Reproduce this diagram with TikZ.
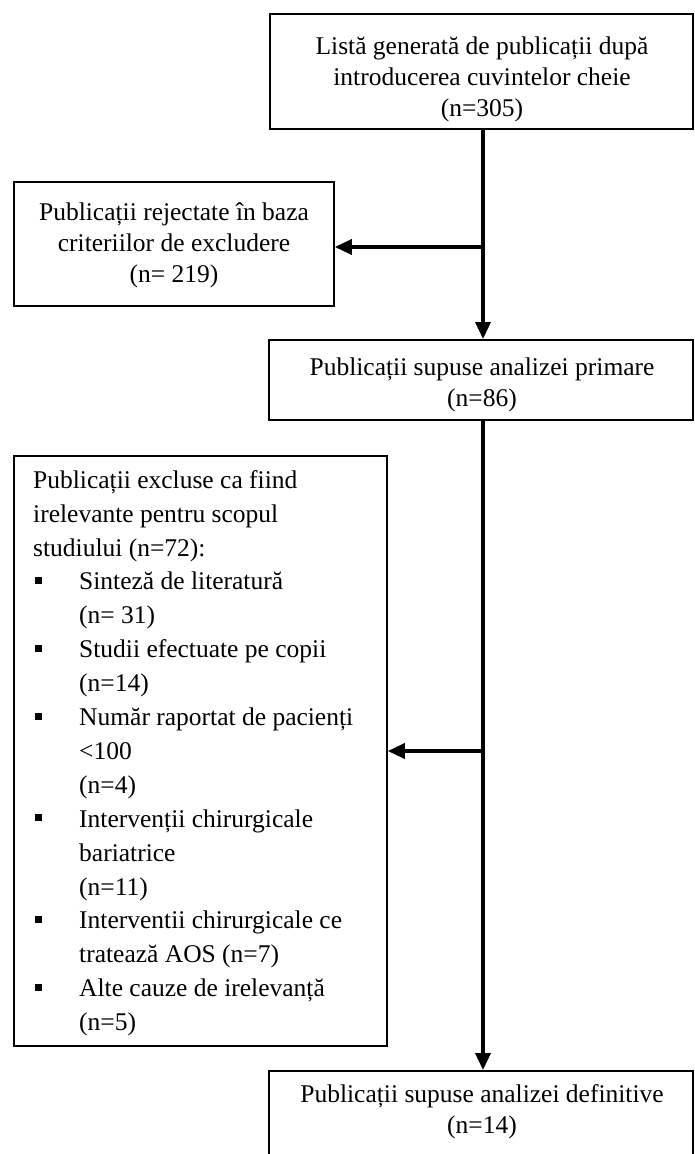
\documentclass[tikz,border=0pt]{standalone}
\usepackage{fontspec}
\setmainfont{Liberation Serif}
\usetikzlibrary{arrows.meta}
\newcommand{\bulitem}{\makebox[46pt][l]{\hspace{2pt}\rule[6pt]{7pt}{7pt}}}
\newcommand{\contind}{\hspace*{46pt}}
\begin{document}
\begin{tikzpicture}[x=1pt,y=-1pt,
  boxstyle/.style={draw, line width=1.8pt, inner sep=0pt, anchor=north west},
  txt/.style={font=\fontsize{25.5}{31}\selectfont, align=center, inner sep=0pt, anchor=north},
  ltxt/.style={font=\fontsize{25.5}{33.9}\selectfont, align=left, inner sep=0pt, anchor=north west},
  conn/.style={line width=3.5pt},
  arr/.style={conn, -{Triangle[length=17pt,width=15pt]}}]
\useasboundingbox (0,0) rectangle (694,1154);
% boxes
\node[boxstyle, minimum width=423pt, minimum height=115pt] (top) at (269,13) {};
\node[boxstyle, minimum width=320pt, minimum height=124pt] (rej) at (13,181) {};
\node[boxstyle, minimum width=424pt, minimum height=80pt] (mid) at (268,339) {};
\node[boxstyle, minimum width=373pt, minimum height=590pt] (excl) at (13,455) {};
\node[boxstyle, minimum width=424pt, minimum height=120pt] (final) at (268,1070) {};
% texts
\node[txt] (toptxt) at (482,32.3) {\strut Listă generată de publicații după\\introducerea cuvintelor cheie\\(n=305)};
\node[txt] (rejtxt) at (174,198.8) {\strut Publicații rejectate în baza\\criteriilor de excludere\\(n= 219)};
\node[txt] (midtxt) at (482,353.3) {\strut Publicații supuse analizei primare\\(n=86)};
\node[ltxt] (excltxt) at (33,464.3) {\strut Publicații excluse ca fiind\\
irelevante pentru scopul\\
studiului (n=72):\\
\bulitem Sinteză de literatură\\
\contind (n= 31)\\
\bulitem Studii efectuate pe copii\\
\contind (n=14)\\
\bulitem Număr raportat de pacienți\\
\contind <100\\
\contind (n=4)\\
\bulitem Intervenții chirurgicale\\
\contind bariatrice\\
\contind (n=11)\\
\bulitem Interventii chirurgicale ce\\
\contind tratează AOS (n=7)\\
\bulitem Alte cauze de irelevanță\\
\contind (n=5)};
\node[txt] (finaltxt) at (482,1080.3) {\strut Publicații supuse analizei definitive\\(n=14)};
% connectors
\coordinate (j1) at (483,247);
\coordinate (j2) at (483,751);
\draw[arr] (top.south -| j1) -- (mid.north -| j1);
\draw[arr] (j1) -- (rej.east |- j1);
\draw[arr] (mid.south -| j2) -- (final.north -| j2);
\draw[arr] (j2) -- (excl.east |- j2);
\end{tikzpicture}
\end{document}
